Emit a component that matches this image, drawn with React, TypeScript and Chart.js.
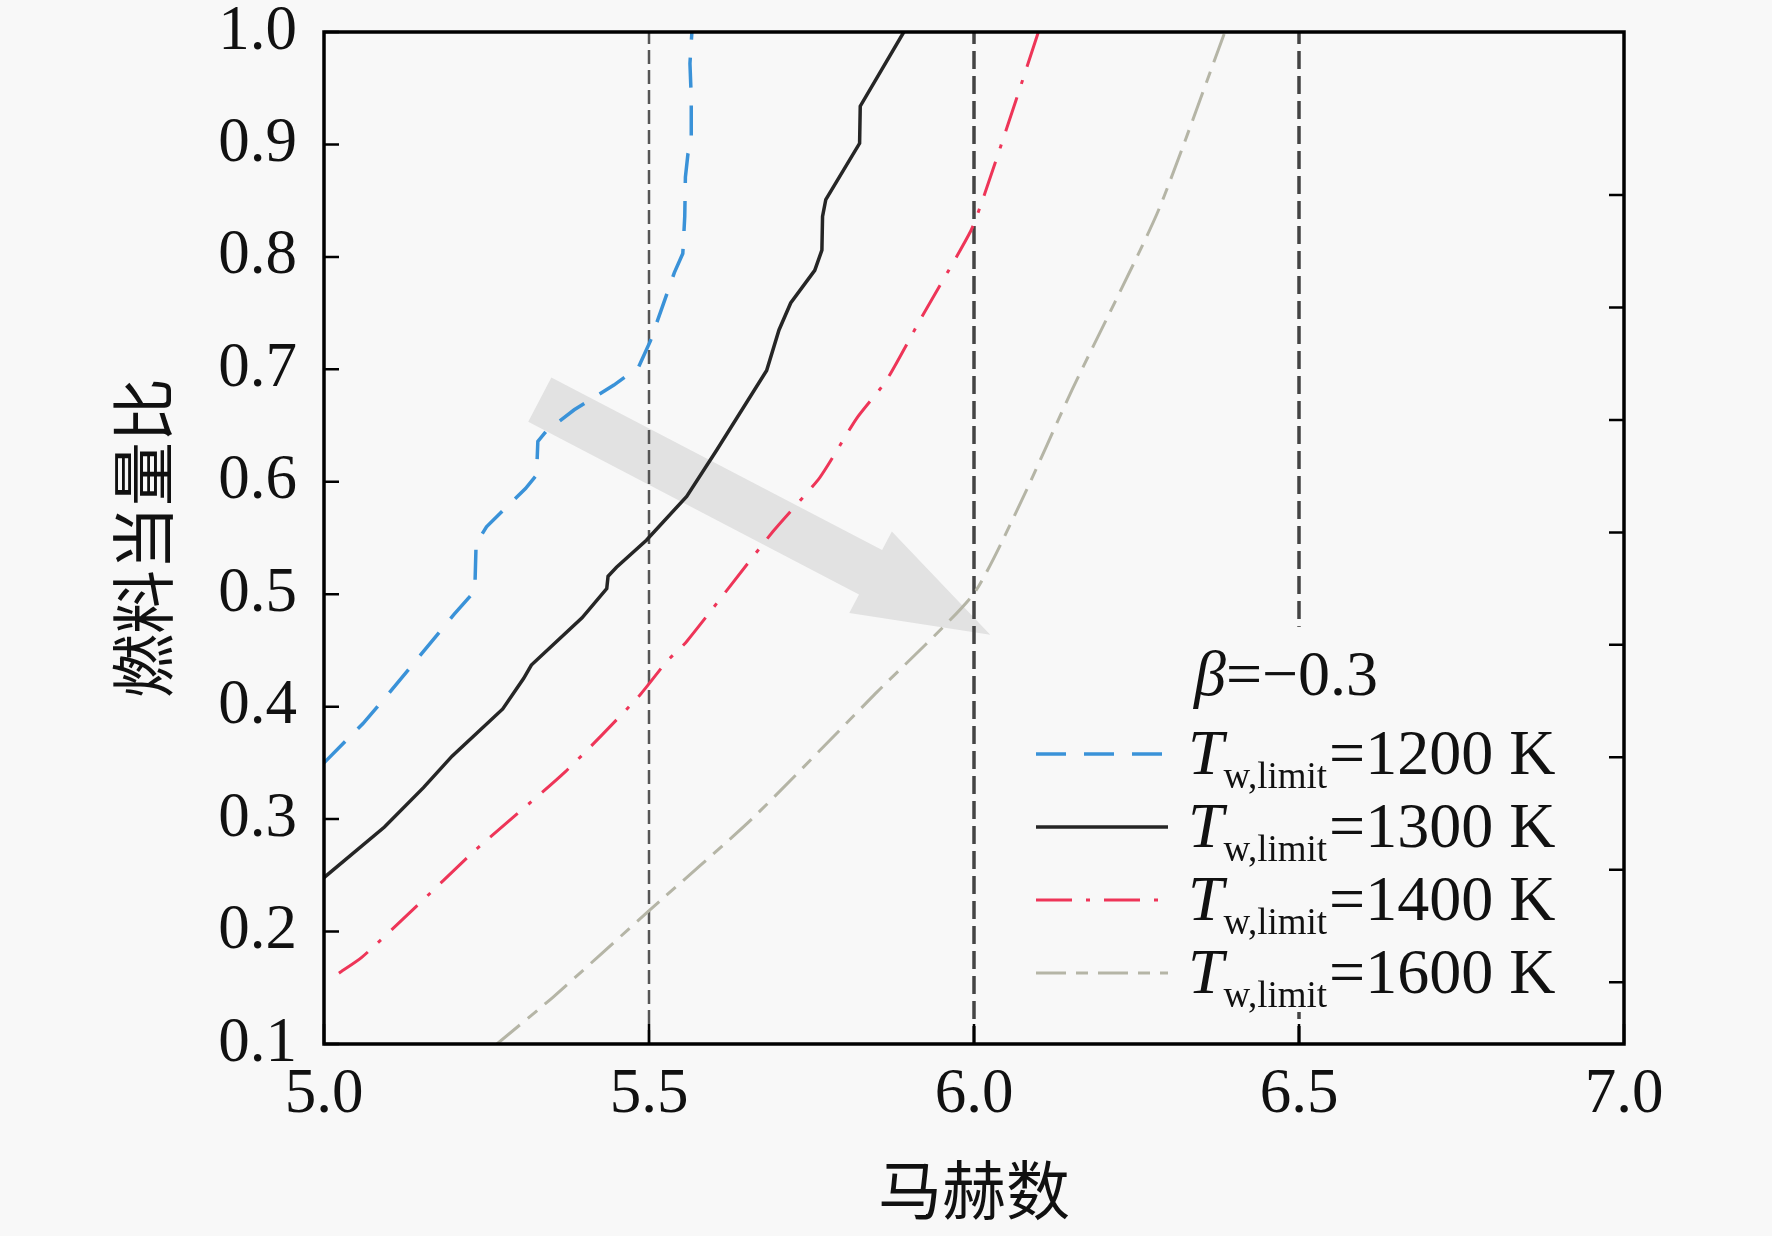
import { useEffect, useRef } from 'react';
import { Chart, registerables } from 'chart.js';

Chart.register(...registerables);

// axis ticks
const machTicks = [5.0, 5.5, 6.0, 6.5, 7.0];
const phiTicks = [0.1, 0.2, 0.3, 0.4, 0.5, 0.6, 0.7, 0.8, 0.9, 1.0];
const rightTicks = [0.155, 0.255, 0.355, 0.455, 0.555, 0.655, 0.755, 0.855];

// vertical reference lines (Mach)
const refMach = [5.5, 6.0, 6.5];

// T_w,limit = 1200 K
const mach1200 = [5.0, 5.06, 5.10, 5.18, 5.20, 5.232, 5.234, 5.25, 5.31, 5.327, 5.329, 5.342, 5.385, 5.446, 5.484, 5.502, 5.522, 5.539, 5.552, 5.555, 5.556, 5.560, 5.565, 5.565, 5.563, 5.566];
const phi1200 = [0.350, 0.385, 0.412, 0.468, 0.482, 0.503, 0.545, 0.560, 0.594, 0.606, 0.636, 0.645, 0.664, 0.686, 0.702, 0.725, 0.758, 0.786, 0.803, 0.836, 0.871, 0.892, 0.902, 0.942, 0.972, 1.0];

// T_w,limit = 1300 K
const mach1300 = [5.0, 5.093, 5.153, 5.197, 5.275, 5.307, 5.319, 5.397, 5.435, 5.437, 5.450, 5.496, 5.558, 5.604, 5.681, 5.700, 5.718, 5.755, 5.766, 5.767, 5.772, 5.824, 5.825, 5.892];
const phi1300 = [0.248, 0.293, 0.328, 0.356, 0.398, 0.425, 0.437, 0.479, 0.505, 0.516, 0.524, 0.548, 0.587, 0.628, 0.699, 0.735, 0.759, 0.788, 0.806, 0.836, 0.851, 0.901, 0.934, 1.0];

// T_w,limit = 1400 K
const mach1400 = [5.023, 5.058, 5.136, 5.232, 5.371, 5.484, 5.527, 5.558, 5.691, 5.763, 5.819, 5.865, 5.920, 5.995, 6.017, 6.065, 6.099];
const phi1400 = [0.163, 0.177, 0.219, 0.272, 0.342, 0.409, 0.440, 0.458, 0.556, 0.604, 0.656, 0.690, 0.747, 0.823, 0.857, 0.940, 1.0];

// T_w,limit = 1600 K
const mach1600 = [5.266, 5.353, 5.501, 5.658, 5.849, 5.999, 6.073, 6.151, 6.282, 6.386];
const phi1600 = [0.100, 0.142, 0.219, 0.300, 0.412, 0.500, 0.583, 0.682, 0.839, 1.0];

const seriesTemps = ['1200 K', '1300 K', '1400 K', '1600 K'];
const betaText = ['β', '=−0.3'];

// gray arrow, tail -> tip, in data units
const arrowMach = [5.332, 6.025];
const arrowPhi = [0.673, 0.464];

const SERIF = "'Liberation Serif', 'Times New Roman', serif";
const CJK = "'Noto Sans CJK SC', sans-serif";
const BG = '#f8f8f8';

function pts(xs: number[], ys: number[]) {
  return xs.map((x, i) => ({ x, y: ys[i] }));
}

const bgPlugin = {
  id: 'bg',
  beforeDraw(chart: any) {
    const { ctx, width, height } = chart;
    ctx.save();
    ctx.fillStyle = BG;
    ctx.fillRect(0, 0, width, height);
    ctx.restore();
  },
};

const arrowPlugin = {
  id: 'arrow',
  beforeDatasetsDraw(chart: any) {
    const { ctx, scales } = chart;
    const x0 = scales.x.getPixelForValue(arrowMach[0]);
    const y0 = scales.y.getPixelForValue(arrowPhi[0]);
    const x1 = scales.x.getPixelForValue(arrowMach[1]);
    const y1 = scales.y.getPixelForValue(arrowPhi[1]);
    const len = Math.hypot(x1 - x0, y1 - y0);
    const dx = (x1 - x0) / len;
    const dy = (y1 - y0) / len;
    const nx = -dy;
    const ny = dx;
    const shaft = 25;
    const head = 46;
    const headLen = 135;
    const bx = x1 - dx * headLen;
    const by = y1 - dy * headLen;
    ctx.save();
    ctx.fillStyle = '#e2e2e2';
    ctx.beginPath();
    ctx.moveTo(x0 + nx * shaft, y0 + ny * shaft);
    ctx.lineTo(bx + nx * shaft, by + ny * shaft);
    ctx.lineTo(bx + nx * head, by + ny * head);
    ctx.lineTo(x1, y1);
    ctx.lineTo(bx - nx * head, by - ny * head);
    ctx.lineTo(bx - nx * shaft, by - ny * shaft);
    ctx.lineTo(x0 - nx * shaft, y0 - ny * shaft);
    ctx.closePath();
    ctx.fill();
    ctx.restore();
  },
};

const legendPlugin = {
  id: 'customLegend',
  afterDatasetsDraw(chart: any) {
    const { ctx, chartArea, scales } = chart;
    const top = scales.y.getPixelForValue(0.471);
    const left = chartArea.right - 604;
    ctx.save();
    ctx.fillStyle = BG;
    ctx.fillRect(left, top, 574, chartArea.bottom - 32 - top);

    ctx.fillStyle = '#111';
    ctx.textBaseline = 'alphabetic';
    ctx.textAlign = 'left';
    // beta line
    let bx = chartArea.right - 430;
    const betaY = chartArea.bottom - 349;
    ctx.font = `italic 64px ${SERIF}`;
    ctx.fillText(betaText[0], bx, betaY);
    bx += ctx.measureText(betaText[0]).width;
    ctx.font = `64px ${SERIF}`;
    ctx.fillText(betaText[1], bx, betaY);

    const lineX0 = chartArea.right - 588;
    const lineX1 = chartArea.right - 456;
    seriesTemps.forEach((temp, i) => {
      const ds = chart.data.datasets[i];
      const base = chartArea.bottom - 270 + i * 73;
      ctx.save();
      ctx.strokeStyle = ds.borderColor;
      ctx.lineWidth = ds.borderWidth;
      ctx.setLineDash(ds.borderDash || []);
      ctx.beginPath();
      ctx.moveTo(lineX0, base - 20);
      ctx.lineTo(lineX1, base - 20);
      ctx.stroke();
      ctx.restore();

      let tx = chartArea.right - 436;
      ctx.font = `italic 64px ${SERIF}`;
      ctx.fillText('T', tx, base);
      tx += ctx.measureText('T').width;
      ctx.font = `37px ${SERIF}`;
      ctx.fillText('w,limit', tx, base + 14);
      tx += ctx.measureText('w,limit').width + 2;
      ctx.font = `64px ${SERIF}`;
      ctx.fillText('=' + temp, tx, base);
    });
    ctx.restore();
  },
};

const framePlugin = {
  id: 'frame',
  afterDraw(chart: any) {
    const { ctx, chartArea, scales } = chart;
    const { left, right, top, bottom } = chartArea;
    ctx.save();
    ctx.strokeStyle = '#000';
    ctx.lineWidth = 2.5;
    ctx.beginPath();
    scales.x.ticks.forEach((t: any) => {
      const px = scales.x.getPixelForValue(t.value);
      ctx.moveTo(px, bottom);
      ctx.lineTo(px, bottom - 20);
    });
    scales.y.ticks.forEach((t: any) => {
      const py = scales.y.getPixelForValue(t.value);
      ctx.moveTo(left, py);
      ctx.lineTo(left + 15, py);
    });
    scales.y2.ticks.forEach((t: any) => {
      const py = scales.y2.getPixelForValue(t.value);
      ctx.moveTo(right, py);
      ctx.lineTo(right - 15, py);
    });
    ctx.stroke();
    ctx.lineWidth = 3.5;
    ctx.strokeRect(left, top, right - left, bottom - top);
    ctx.restore();
  },
};

function noPadY(s: any, width: number) {
  s.width = width;
  s.paddingTop = 0;
  s.paddingBottom = 0;
}

export default function App() {
  const canvasRef = useRef<HTMLCanvasElement>(null);

  useEffect(() => {
    document.body.style.margin = '0';
    document.body.style.background = BG;
    if (!canvasRef.current) return;

    const curveStyles = [
      { color: '#3a92d8', dash: [30, 18], width: 3.5 },
      { color: '#262626', dash: [], width: 3.5 },
      { color: '#ee3558', dash: [36, 14, 4, 14], width: 3 },
      { color: '#b5b5a6', dash: [30, 10, 12, 10], width: 3 },
    ];
    const curveData = [
      pts(mach1200, phi1200),
      pts(mach1300, phi1300),
      pts(mach1400, phi1400),
      pts(mach1600, phi1600),
    ];

    const curves = curveData.map((data, i) => ({
      label: seriesTemps[i],
      data,
      borderColor: curveStyles[i].color,
      borderDash: curveStyles[i].dash,
      borderWidth: curveStyles[i].width,
      pointRadius: 0,
      tension: i >= 2 ? 0.2 : 0,
      fill: false,
      order: 1,
    }));

    const refLines = refMach.map((m, i) => ({
      label: 'ref' + m,
      data: [{ x: m, y: 0.1 }, { x: m, y: 1.0 }],
      borderColor: i === 0 ? '#555' : '#444',
      borderDash: i === 0 ? [14, 6] : [18, 7],
      borderWidth: i === 0 ? 2.5 : 3.5,
      pointRadius: 0,
      fill: false,
      order: 2,
    }));

    const tickFont = { family: SERIF, size: 63 };

    const chart = new Chart(canvasRef.current, {
      type: 'line',
      data: { datasets: [...curves, ...refLines] as any },
      options: {
        animation: false,
        responsive: false,
        devicePixelRatio: 1,
        layout: { padding: { top: 32, left: 0, right: 0, bottom: 0 } },
        plugins: {
          legend: { display: false },
          tooltip: { enabled: false },
        },
        scales: {
          x: {
            type: 'linear',
            position: 'bottom',
            min: 5.0,
            max: 7.0,
            afterBuildTicks: (s: any) => {
              s.ticks = machTicks.map((value) => ({ value }));
            },
            afterFit: (s: any) => {
              s.height = 192;
              s.paddingLeft = 0;
              s.paddingRight = 0;
            },
            ticks: {
              font: tickFont,
              color: '#111',
              padding: 14,
              maxRotation: 0,
              autoSkip: false,
              callback: (v: any) => Number(v).toFixed(1),
            },
            grid: { display: false, drawTicks: false },
            border: { display: false },
            title: {
              display: true,
              text: '马赫数',
              color: '#111',
              font: { family: CJK, size: 64 },
              padding: { top: 0, bottom: 8 },
            },
          },
          y: {
            type: 'linear',
            position: 'left',
            min: 0.1,
            max: 1.0,
            afterBuildTicks: (s: any) => {
              s.ticks = phiTicks.map((value) => ({ value }));
            },
            afterFit: (s: any) => noPadY(s, 324),
            ticks: {
              font: tickFont,
              color: '#111',
              padding: 27,
              autoSkip: false,
              callback: (v: any) => Number(v).toFixed(1),
            },
            grid: { display: false, drawTicks: false },
            border: { display: false },
            title: {
              display: true,
              text: '燃料当量比',
              color: '#111',
              font: { family: CJK, size: 64 },
              padding: { top: 104, bottom: 0 },
            },
          },
          y2: {
            type: 'linear',
            axis: 'y',
            position: 'right',
            min: 0.1,
            max: 1.0,
            afterBuildTicks: (s: any) => {
              s.ticks = rightTicks.map((value) => ({ value }));
            },
            afterFit: (s: any) => noPadY(s, 148),
            ticks: { display: false },
            grid: { display: false, drawTicks: false },
            border: { display: false },
          },
        },
      },
      plugins: [bgPlugin, arrowPlugin, legendPlugin, framePlugin],
    } as any);

    return () => chart.destroy();
  }, []);

  return (
    <div style={{ width: 1772, height: 1236 }}>
      <canvas ref={canvasRef} width={1772} height={1236} />
    </div>
  );
}
